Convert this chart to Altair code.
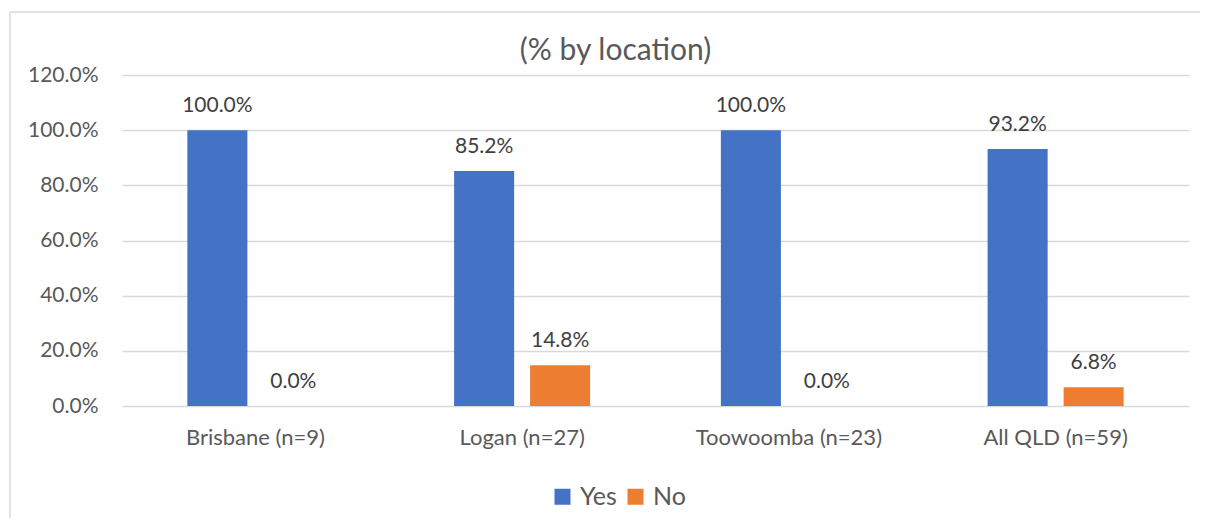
import altair as alt
import pandas as pd

categories = ["Brisbane (n=9)", "Logan (n=27)", "Toowoomba (n=23)", "All QLD (n=59)"]
yes_values = [100.0, 85.2, 100.0, 93.2]
no_values = [0.0, 14.8, 0.0, 6.8]
series = ["Yes", "No"]
colors = ["#4472C4", "#ED7D31"]
title_text = "(% by location)"

rows = []
for c, y, n in zip(categories, yes_values, no_values):
    rows.append({"cat": c, "series": "Yes", "value": y})
    rows.append({"cat": c, "series": "No", "value": n})
df = pd.DataFrame(rows)
df["label"] = df["value"].map(lambda v: f"{v:.1f}%")

FONT = "Lato"
TXT = "#595959"
W, H = 1067, 331

x = alt.X("cat:N", sort=categories, title=None,
          scale=alt.Scale(paddingInner=0, paddingOuter=0),
          axis=alt.Axis(labelAngle=0, ticks=False, domain=False, labelFontSize=22,
                        labelColor=TXT, labelFont=FONT, labelPadding=21, labelLimit=0))
xo = alt.XOffset("series:N", sort=series,
                 scale=alt.Scale(paddingInner=0.21, paddingOuter=0.86))
y = alt.Y("value:Q", title=None,
          scale=alt.Scale(domain=[0, 120]),
          axis=alt.Axis(values=[0, 20, 40, 60, 80, 100, 120], labelExpr="format(datum.value, '.1f') + '%'",
                        ticks=False, domain=False, gridColor="#D9D9D9", gridWidth=1.5,
                        labelFontSize=21, labelColor=TXT, labelFont=FONT, labelPadding=24))

bars = alt.Chart(df).mark_bar().encode(
    x=x, xOffset=xo, y=y,
    color=alt.Color("series:N", sort=series,
                    scale=alt.Scale(domain=series, range=colors),
                    legend=alt.Legend(title=None, orient="none", direction="horizontal",
                                      legendX=428, legendY=409, symbolType="square",
                                      symbolSize=256, symbolStrokeWidth=0,
                                      labelFontSize=25, labelColor=TXT, labelFont=FONT,
                                      columnPadding=6, labelOffset=5)),
)

labels = alt.Chart(df).mark_text(baseline="bottom", dy=-14, fontSize=21, color="#404040",
                                 font=FONT).encode(
    x=x, xOffset=xo, y=y, text="label:N")

one = pd.DataFrame({"a": [0]})
frame_top = alt.Chart(one).mark_rule(stroke="#D9D9D9", strokeWidth=1.5, clip=False).encode(
    x=alt.value(-112), x2=alt.value(1078), y=alt.value(-63))
frame_left = alt.Chart(one).mark_rule(stroke="#D9D9D9", strokeWidth=1.5, clip=False).encode(
    x=alt.value(-112), y=alt.value(-63), y2=alt.value(451))

title = alt.Chart(pd.DataFrame({"t": [title_text]})).mark_text(
    fontSize=30, font=FONT, color=TXT, baseline="middle", align="center").encode(
    x=alt.value(W / 2 - 40), y=alt.value(-24), text="t:N")

chart = alt.layer(frame_top, frame_left, bars, labels, title).properties(
    width=W, height=H,
    autosize=alt.AutoSizeParams(type="none"),
    padding={"left": 114, "top": 67, "right": 11, "bottom": 112},
).configure_view(stroke=None)

chart.save("out.html", embed_options={"renderer": "svg", "actions": False})
